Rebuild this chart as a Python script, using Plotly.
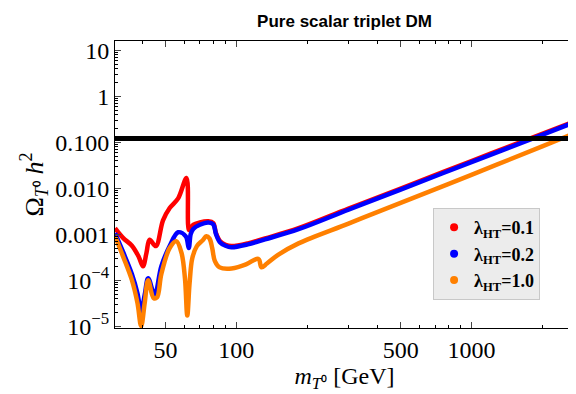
import plotly.graph_objects as go

# relic abundance vs triplet mass
mass_l01 = [30.5, 33, 36, 38.5, 40.1, 41.5, 42.8, 45.5, 48.8, 52.1, 56.6, 61.4, 62.4, 63.0,
            65.6, 70, 76, 79.8, 82, 85.4, 90, 95.2, 112, 132.5, 184, 300, 500, 1000, 1900, 2730]
omega_l01 = [0.00135, 0.00083, 0.00056, 0.00032, 0.0002, 0.00039, 0.00076, 0.00055, 0.002, 0.0037,
             0.006, 0.0166, 0.0016, 0.00123, 0.0016, 0.0018, 0.0019, 0.00174, 0.00105, 0.0007,
             0.00059, 0.00055, 0.00063, 0.00081, 0.00135, 0.0036, 0.0098, 0.039, 0.138, 0.28]

mass_l02 = [30.5, 33, 36, 38, 39.4, 40.8, 42.2, 45.0, 48.0, 52.1, 56.6, 61.0, 62.8, 64,
            65.6, 70, 76, 79.8, 82, 85.4, 90, 95.2, 112, 132.5, 184, 300, 500, 1000, 1900, 2730]
omega_l02 = [0.00105, 0.00041, 0.000135, 5.2e-5, 2.1e-5, 4.8e-5, 0.00011, 4.8e-5, 0.0002, 0.00055,
             0.0011, 0.0009, 0.0005, 0.001, 0.0013, 0.0016, 0.0018, 0.00165, 0.001, 0.00066,
             0.00056, 0.00052, 0.0006, 0.00077, 0.00128, 0.0034, 0.0093, 0.037, 0.13, 0.27]

mass_l10 = [30.5, 33, 36, 38, 39.4, 40.8, 42.2, 44.5, 46, 48.0, 52.1, 55.6, 58.5, 60.5, 61.9,
            63.3, 65, 68, 72, 74.6, 77, 79, 81.1, 85, 95.5, 110, 122, 125, 128, 135, 150, 184,
            300, 500, 1000, 2000, 2730]
omega_l10 = [0.00091, 0.00033, 0.0001, 3.2e-5, 1.0e-5, 3.2e-5, 0.0001, 4.1e-5, 4.2e-5, 0.000135,
             0.0005, 0.0007, 0.00039, 0.00011, 1.7e-5, 8.5e-5, 0.0003, 0.00055, 0.00074, 0.0009,
             0.0008, 0.0005, 0.00026, 0.00019, 0.00018, 0.00022, 0.00029, 0.00028, 0.00019,
             0.00023, 0.00035, 0.00063, 0.0017, 0.0048, 0.0195, 0.081, 0.155]

relic_mass = [30.5, 2730]
relic_omega = [0.12, 0.12]

x_major = [50, 100, 500, 1000]
x_minor = [40, 60, 70, 80, 90, 200, 300, 400, 600, 700, 800, 900, 2000]
y_major = [1e-5, 1e-4, 1e-3, 1e-2, 1e-1, 1, 10]
y_labels = ["10<sup>\u22125</sup>", "10<sup>\u22124</sup>", "0.001", "0.010", "0.100", "1", "10"]
y_minor = [m * 10.0 ** e for e in range(-6, 2) for m in range(2, 10)]

serif = "Liberation Serif"

fig = go.Figure()
for xs, ys, col in [(mass_l01, omega_l01, "#ff0000"), (mass_l02, omega_l02, "#0000ff"),
                    (mass_l10, omega_l10, "#ff8000")]:
    fig.add_trace(go.Scatter(x=xs, y=ys, mode="lines", line=dict(color=col, width=4.5),
                             line_shape="spline", showlegend=False))
fig.add_trace(go.Scatter(x=relic_mass, y=relic_omega, mode="lines",
                         line=dict(color="black", width=5), showlegend=False))

# legend entries shown as dots
for lab, col in [("0.1", "#ff0000"), ("0.2", "#0000ff"), ("1.0", "#ff8000")]:
    fig.add_trace(go.Scatter(x=[None], y=[None], mode="markers",
                             marker=dict(color=col, size=8),
                             name="<b>\u03bb<sub>HT</sub>=" + lab + "</b>"))

fig.update_xaxes(type="log", range=[1.4843, 3.4362], tickmode="array", tickvals=x_major,
                 ticktext=[str(v) for v in x_major], ticks="inside", ticklen=6,
                 showline=True, linecolor="black", linewidth=1, mirror="allticks",
                 showgrid=False, zeroline=False,
                 minor=dict(tickmode="array", tickvals=x_minor, ticks="inside", ticklen=3,
                            tickcolor="black", showgrid=False),
                 tickfont=dict(family=serif, size=24, color="black"),
                 title=dict(text="<i>m</i><sub><i>T</i>\u2070</sub> [GeV]",
                            font=dict(family=serif, size=24, color="black"), standoff=2))
fig.update_yaxes(type="log", range=[-5.04, 1.2], tickmode="array", tickvals=y_major,
                 ticktext=y_labels, ticks="inside", ticklen=6,
                 showline=True, linecolor="black", linewidth=1, mirror="allticks",
                 showgrid=False, zeroline=False,
                 minor=dict(tickmode="array", tickvals=y_minor, ticks="inside", ticklen=3,
                            tickcolor="black", showgrid=False),
                 tickfont=dict(family=serif, size=24, color="black"),
                 title=dict(text="\u03a9<sub><i>T</i>\u2070</sub> <i>h</i><sup>2</sup>",
                            font=dict(family=serif, size=26, color="black"), standoff=4))

fig.update_layout(
    width=576, height=394,
    margin=dict(l=107, r=10, t=33, b=74),
    plot_bgcolor="white", paper_bgcolor="white",
    title=dict(text="<b>Pure scalar triplet DM</b>", x=0.5, xref="paper", y=0.968,
               yanchor="middle", font=dict(family="Liberation Sans", size=17, color="black")),
    legend=dict(x=0.693, y=0.418, xanchor="left", yanchor="top", bgcolor="#ececec",
                bordercolor="#c8c8c8", borderwidth=1,
                font=dict(family=serif, size=18, color="black")),
)

fig.write_html("out.html")
